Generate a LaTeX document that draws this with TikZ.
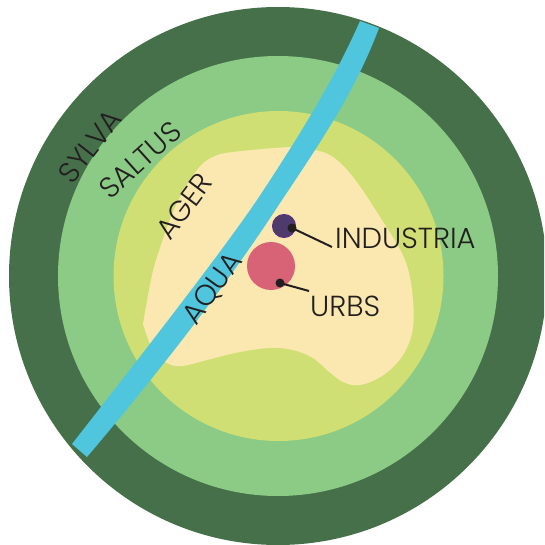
\documentclass[tikz,border=0pt]{standalone}
\usepackage{fontspec}
\setmainfont{Poppins Light}
\definecolor{darkgreen}{HTML}{45704A}
\definecolor{midgreen}{HTML}{8BCB85}
\definecolor{limegreen}{HTML}{D0DF74}
\definecolor{cream}{HTML}{FAE8B0}
\definecolor{river}{HTML}{50C6DE}
\definecolor{pinkred}{HTML}{D86377}
\definecolor{plum}{HTML}{4D3B6B}
\definecolor{plumedge}{HTML}{5A2D82}
\definecolor{ink}{HTML}{231F20}
\tikzset{
  lab/.style={text=ink,inner sep=0pt,font=\fontsize{29}{29}\selectfont},
  leader/.style={draw=ink,line width=2pt},
  leaderdot/.style={circle,fill=ink,inner sep=0pt,minimum size=9pt},
}
\begin{document}
\begin{tikzpicture}[x=1pt,y=-1pt]
\useasboundingbox (0,0) rectangle (544,545);
\clip (0,0) rectangle (544,545);
\fill[darkgreen] (278,276) circle[radius=269];
\fill[midgreen] (278,276) circle[radius=220];
\fill[limegreen] (278.5,276) circle[radius=165];
\fill[cream] plot[smooth,tension=0.6] coordinates {(143,324) (150,285) (157,257) (176,205) (197,170) (213,157) (233,152) (292,147) (315,150) (333,157) (353,177) (380,217) (405,260) (413,300) (412,333) (401,358) (382,376) (360,385) (343,382) (327,370) (313,358) (293,350) (270,348) (240,352) (207,360) (182,366) (167,363) (153,350) (143,324)} -- cycle;
\fill[river] (360,21) .. controls (335,78) and (300,135) .. (257,200) .. controls (225,247) and (165,325) .. (72,444) -- (87,457) .. controls (165,365) and (230,280) .. (280,203) .. controls (320,143) and (355,92) .. (379,28) -- cycle;
\node[circle,fill=pinkred,inner sep=0pt,minimum size=48pt] (urbs) at (271,266) {};
\node[circle,fill=plum,draw=plumedge,line width=1pt,inner sep=0pt,minimum size=23pt] (industria) at (284,226) {};
\node[leaderdot] (dotI) at (292,228) {};
\node[leaderdot] (dotU) at (280,283) {};
\node[lab,anchor=base west] (labI) at (335,248) {INDUSTRIA};
\node[lab,anchor=base west] (labU) at (310,316) {URBS};
\coordinate (endI) at (332,247);
\coordinate (endU) at (309,291);
\draw[leader] (dotI.center) -- (endI);
\draw[leader] (dotU.center) -- (endU);
\node[lab,rotate=52] (sylva) at (90,146) {SYLVA};
\node[lab,rotate=42] (saltus) at (140,160) {SALTUS};
\node[lab,rotate=53] (ager) at (184,206) {AGER};
\node[lab,rotate=54] (aqua) at (213,289) {AQUA};
\end{tikzpicture}
\end{document}
